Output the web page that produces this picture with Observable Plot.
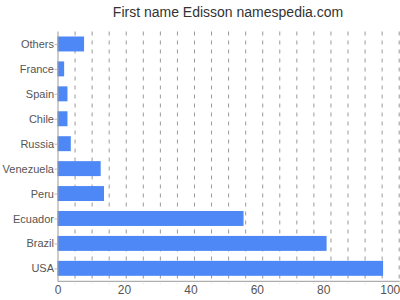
<!DOCTYPE html>
<html><head><meta charset="utf-8">
<script src="https://cdn.jsdelivr.net/npm/d3@7"></script>
<script src="https://cdn.jsdelivr.net/npm/@observablehq/plot@0.6"></script>
<style>
body{margin:0;background:#fff;}
#title{height:20px;width:400px;font:14px "Liberation Sans",Arial,sans-serif;color:#333;text-align:center;padding-left:56px;box-sizing:border-box;line-height:20px;padding-top:2px;overflow:visible;white-space:nowrap;}
#chart svg{display:block;}
</style></head><body>
<div id="title">First name Edisson namespedia.com</div>
<div id="chart"></div>
<script>
const countries = ["Others","France","Spain","Chile","Russia","Venezuela","Peru","Ecuador","Brazil","USA"];
const values = [8,2,3,3,4,13,14,56,81,98];
const xTicks = [0,20,40,60,80,100];
const xMax = 102.7;
const gridCount = 20;
const data = countries.map((c,i)=>({country:c, value:values[i]}));
const grid = d3.range(1, gridCount+1).map(i => i*xMax/gridCount);
const plot = Plot.plot({
  width:400, height:280,
  marginTop:11.5, marginBottom:19.2, marginLeft:57.5, marginRight:1.3,
  style:{fontFamily:'"Liberation Sans", Arial, sans-serif', fontSize:"11px", color:"#555", background:"#fff"},
  x:{domain:[0,xMax], label:null},
  y:{domain:countries, paddingInner:0.4, paddingOuter:0.2, round:false, label:null},
  marks:[
    Plot.ruleX(grid,{stroke:"#999", strokeDasharray:"4,5", insetBottom:-3}),
    Plot.barX(data,{x:"value", y:"country", fill:"#4d88f6"}),
    Plot.ruleX([0],{stroke:"#999"}),
    Plot.frame({anchor:"bottom", stroke:"#999"}),
    Plot.axisX({ticks:xTicks, tickSize:0, tickPadding:4, fontSize:12, fill:"#555", label:null}),
    Plot.axisY({tickSize:3, tickPadding:1, stroke:"#bbb", fill:"#555", label:null})
  ]
});
document.getElementById("chart").appendChild(plot);
</script>
</body></html>
